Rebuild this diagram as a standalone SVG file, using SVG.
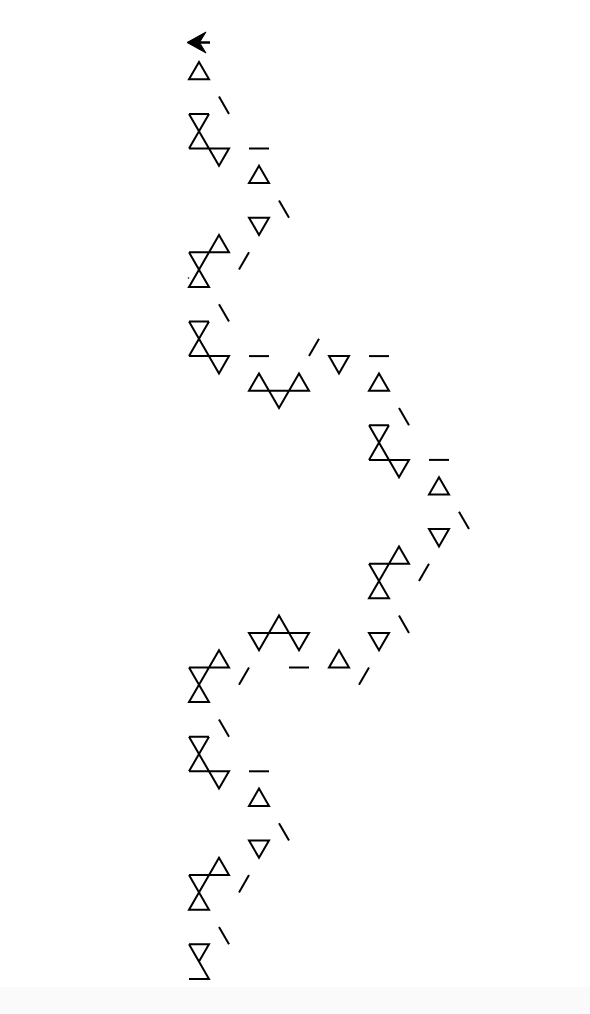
<svg xmlns="http://www.w3.org/2000/svg" width="590" height="1014" viewBox="0 0 590 1014">
<style>
.s{fill:none;stroke:#000;stroke-width:2;stroke-linecap:butt;stroke-linejoin:miter}
</style>
<rect x="0" y="0" width="590" height="1014" fill="#fff"/>
<rect x="0" y="987" width="590" height="27" fill="#fafafa"/>
<g id="turtle">
<path d="M187,42.5 L206,32 L199.5,42.5 L206,53 Z" fill="#000" stroke="#000" stroke-width="1" stroke-linejoin="round"/>
<line x1="199" y1="42.5" x2="210" y2="42.5" stroke="#000" stroke-width="2.5"/>
</g>
<g id="drawing" class="s">
<path d="M199,62 L189,79.3 L209,79.3 Z"/>
<path d="M219,96.6 L229,113.9"/>
<path d="M189,113.9 H209 M209,113.9 L189,148.5 M189,113.9 L219,165.8 L229,148.5 H189"/>
<path d="M249,148.5 H269"/>
<path d="M259,165.8 L249,183.1 H269 Z"/>
<path d="M279,200.4 L289,217.7"/>
<path d="M249,217.7 H269 L259,235 Z"/>
<path d="M189,252.3 H229 L219,235 L189,286.9 H209 L189,252.3"/>
<path d="M249,252.3 L239,269.6"/>
<path d="M219,304.2 L229,321.5"/>
<path d="M189,321.5 H209 M209,321.5 L189,356.1 M189,321.5 L219,373.4 L229,356.1 H189"/>
<path d="M249,356.1 H269"/>
<path d="M319,338.8 L309,356.1"/>
<path d="M329,356.1 H349 L339,373.4 Z"/>
<path d="M369,356.1 H389"/>
<path d="M379,373.4 L369,390.7 H389 Z"/>
<path d="M249,390.7 H309 L299,373.4 L279,408 L259,373.4 Z"/>
<path d="M399,408 L409,425.3"/>
<path d="M369,425.3 H389 M389,425.3 L369,459.9 M369,425.3 L399,477.2 L409,459.9 H369"/>
<path d="M429,459.9 H449"/>
<path d="M439,477.2 L429,494.5 H449 Z"/>
<path d="M459,511.8 L469,529.1"/>
<path d="M429,529.1 H449 L439,546.4 Z"/>
<path d="M369,563.7 H409 L399,546.4 L369,598.3 H389 L369,563.7"/>
<path d="M429,563.7 L419,581"/>
<path d="M399,615.6 L409,632.9"/>
<path d="M369,632.9 H389 L379,650.2 Z"/>
<path d="M369,667.5 L359,684.8"/>
<path d="M339,650.2 L329,667.5 H349 Z"/>
<path d="M289,667.5 H309"/>
<path d="M249,632.9 H309 L299,650.2 L279,615.6 L259,650.2 Z"/>
<path d="M249,667.5 L239,684.8"/>
<path d="M189,667.5 H229 L219,650.2 L189,702.1 H209 L189,667.5"/>
<path d="M219,719.4 L229,736.7"/>
<path d="M189,736.7 H209 M209,736.7 L189,771.3 M189,736.7 L219,788.6 L229,771.3 H189"/>
<path d="M249,771.3 H269"/>
<path d="M259,788.6 L249,805.9 H269 Z"/>
<path d="M279,823.2 L289,840.5"/>
<path d="M249,840.5 H269 L259,857.8 Z"/>
<path d="M189,875.1 H229 L219,857.8 L189,909.7 H209 L189,875.1"/>
<path d="M249,875.1 L239,892.4"/>
<path d="M219,927 L229,944.3"/>
<path d="M189,944.3 H209 L199,961.6 M189,944.3 L209,978.9 H189"/>
</g>
<circle cx="188.5" cy="278" r="0.8" fill="#000"/>
</svg>
